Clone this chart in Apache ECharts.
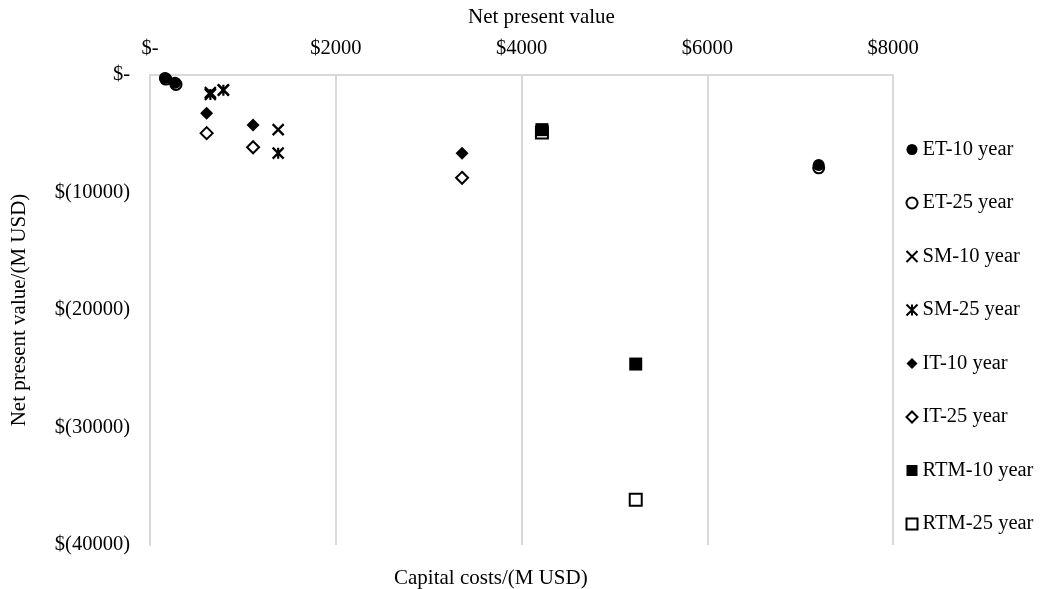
<!DOCTYPE html>
<html>
<head>
  <meta charset="utf-8">
  <title>Net present value</title>
  <script src="https://cdn.jsdelivr.net/npm/echarts@6/dist/echarts.min.js"></script>
  <style>
    html, body { margin: 0; padding: 0; background: #fff; }
    #chart { width: 1044px; height: 589px; }
  </style>
</head>
<body>
<div id="chart"></div>
<script type="text/javascript">
// data: [capital cost, net present value] in M USD
var seriesNames = ['ET-10 year', 'ET-25 year', 'SM-10 year', 'SM-25 year',
                   'IT-10 year', 'IT-25 year', 'RTM-10 year', 'RTM-25 year'];
var et10 = [[160, -250], [270, -650], [7200, -7650]];
var et25 = [[170, -350], [280, -800], [7200, -7900]];
var sm10 = [[650, -1500], [790, -1250], [1380, -4650]];
var sm25 = [[650, -1650], [790, -1300], [1380, -6650]];
var it10 = [[610, -3250], [1110, -4250], [3360, -6650]];
var it25 = [[610, -4950], [1110, -6150], [3360, -8750]];
var rtm10 = [[4220, -4650], [5230, -24600]];
var rtm25 = [[4220, -4900], [5230, -36150]];
var xTicks = [0, 2000, 4000, 6000, 8000];
var yTicks = [0, -10000, -20000, -30000, -40000];

var font = 'Liberation Serif';
var crossPath = 'path://M0,0L10,10M10,0L0,10';
var starPath = 'path://M0,0L10,10M10,0L0,10M5,0L5,10';

function mk(name, data, symbol, size, style, z) {
  style.opacity = 1;
  return {
    name: name,
    type: 'scatter',
    data: data,
    symbol: symbol,
    symbolSize: size,
    z: z,
    itemStyle: style
  };
}

var chart = echarts.init(document.getElementById('chart'));
var option = {
  animation: false,
  backgroundColor: '#fff',
  textStyle: { fontFamily: font, color: '#000' },
  title: [
    { text: 'Net present value', left: 463, top: 2,
      textStyle: { fontFamily: font, fontSize: 21, fontWeight: 'normal', color: '#000' } },
    { text: 'Capital costs/(M USD)', left: 389, top: 563,
      textStyle: { fontFamily: font, fontSize: 21, fontWeight: 'normal', color: '#000' } }
  ],
  grid: { left: 150, right: 151, top: 75, bottom: 44 },
  legend: {
    orient: 'vertical',
    left: 899,
    top: 134,
    itemGap: 32.5,
    itemWidth: 11,
    itemHeight: 11,
    textStyle: { fontFamily: font, fontSize: 20.5, color: '#000' },
    data: seriesNames
  },
  xAxis: {
    type: 'value',
    position: 'top',
    min: xTicks[0],
    max: xTicks[xTicks.length - 1],
    interval: 2000,
    axisLine: { show: true, lineStyle: { color: '#d9d9d9', width: 2 } },
    axisTick: { show: false },
    splitLine: { show: true, lineStyle: { color: '#d9d9d9', width: 2 } },
    axisLabel: {
      fontFamily: font, fontSize: 20.5, color: '#000', margin: 16,
      formatter: function (v) { return v === 0 ? '$-' : '$' + v; }
    }
  },
  yAxis: {
    type: 'value',
    min: yTicks[yTicks.length - 1],
    max: yTicks[0],
    interval: 10000,
    name: 'Net present value/(M USD)',
    nameLocation: 'middle',
    nameGap: 120,
    nameTextStyle: { fontFamily: font, fontSize: 21, color: '#000' },
    axisLine: { show: true, lineStyle: { color: '#d9d9d9', width: 2 } },
    axisTick: { show: false },
    splitLine: { show: false },
    axisLabel: {
      fontFamily: font, fontSize: 20.5, color: '#000', margin: 20,
      formatter: function (v) { return v === 0 ? '$-' : '$(' + (-v) + ')'; }
    }
  },
  series: [
    mk('ET-10 year', et10, 'circle', 12, { color: '#000' }, 4),
    mk('ET-25 year', et25, 'emptyCircle', 11, { color: '#000', borderWidth: 2 }, 2),
    mk('SM-10 year', sm10, crossPath, 11, { color: 'none', borderColor: '#000', borderWidth: 2.2 }, 4),
    mk('SM-25 year', sm25, starPath, 11, { color: 'none', borderColor: '#000', borderWidth: 2.2 }, 3),
    mk('IT-10 year', it10, 'diamond', 13, { color: '#000' }, 4),
    mk('IT-25 year', it25, 'emptyDiamond', 12, { color: '#000', borderWidth: 2 }, 2),
    mk('RTM-10 year', rtm10, 'rect', 13, { color: '#000' }, 4),
    mk('RTM-25 year', rtm25, 'emptyRect', 12, { color: '#000', borderWidth: 2 }, 2)
  ]
};
chart.setOption(option);
</script>
</body>
</html>
